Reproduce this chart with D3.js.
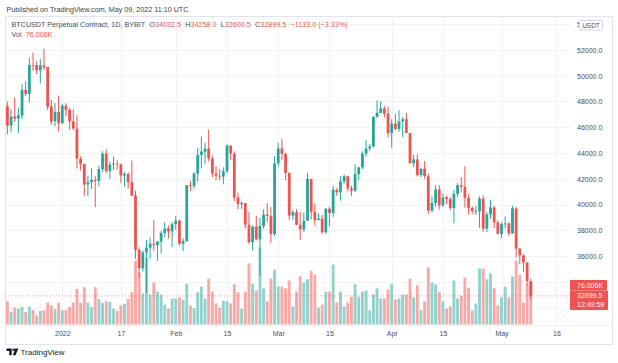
<!DOCTYPE html>
<html>
<head>
<meta charset="utf-8">
<script src="https://cdn.jsdelivr.net/npm/d3@7"></script>
<style>
  body { margin: 0; background: #fff; }
  svg text { font-family: "Liberation Sans", Arial, sans-serif; }
</style>
</head>
<body>
<div class="chart"></div>
<script>
// Daily candles, first one is 2021-12-17, last one 2022-05-09
var firstDay = "2021-12-17";

var opens = [47632,46133,46834,46682,46908,48887,48588,50838,50821,50428,50802,50679,47623,46490,47169,
  46311,47680,47343,46459,45899,43565,43153,41561,41734,41910,41819,42742,43947,42599,43102,43172,43118,42250,42374,41744,40699,36471,35048,36275,36654,36950,36841,37128,37780,38151,37920,
  38481,38744,36945,37149,41501,41441,42407,43854,44096,44347,43571,42412,42236,42158,42586,44578,43937,40552,40022,40118,38423,37068,38285,37279,38333,39214,39098,37707,
  43194,44358,43925,42458,39148,39404,38429,38060,38742,41974,39439,38795,38884,37846,39664,39335,41141,40944,41795,42191,41246,41074,42364,42886,43964,44349,44505,46821,47100,47456,47062,
  45554,46285,45859,46445,46625,45544,43207,43505,42283,42781,42201,39533,40123,41161,39940,40553,40417,39721,40828,41501,41371,40525,39740,39460,39472,40448,38120,39242,39768,38605,
  37713,38472,38528,37748,39695,36573,36042,35502,34032.5];

var highs = [47995,47392,48300,47537,49329,49576,51375,51810,51156,51280,52088,50679,48119,47879,48472,
  47827,47881,47510,47406,46929,43748,43153,42228,42786,42199,43001,44135,44278,43346,43724,43436,43179,42534,42478,43413,41060,36688,36433,37247,37444,38825,37148,37952,38623,38360,38648,
  39116,38834,37390,41527,41847,42500,44401,45293,44793,45821,43810,42992,42760,42883,44667,44578,44132,40929,40247,40119,39394,38349,39122,38968,39630,40124,39794,43760,
  44793,45077,44021,42479,39566,39640,39430,39362,42465,42004,40081,39308,39209,39742,39795,41465,41287,42195,42316,42241,41454,43124,42893,44131,44999,44735,46827,48086,48022,47655,47600,
  46616,47028,47313,46791,47106,45544,43860,43903,42800,43376,42415,40617,41503,41507,40854,40710,40595,41116,41672,42126,42976,40792,39845,39923,40616,40713,39422,40370,39887,38771,
  38627,39074,38629,39902,39789,36624,36129,35502,34258];

var lows = [45456,45601,46406,45558,46631,48422,47920,50391,50142,49412,50449,47320,46201,46060,45678,
  46288,46856,45835,45752,42798,42645,40672,40672,41200,39796,41407,42529,42447,41982,42669,42692,41680,41392,41242,40672,35791,34349,34785,33184,35780,36374,35630,36211,37465,37351,36693,
  38037,36832,36375,37093,41038,41244,41748,42807,43117,43334,42114,41852,41880,41570,42427,43456,40249,39637,39660,38113,36950,36435,37201,34459,38111,38625,37018,37518,
  42952,43432,41914,38805,38777,38380,37260,37868,38706,38832,38347,38772,37728,37680,38310,39022,40662,40302,41602,41004,40668,40948,41877,42726,43706,44166,44437,46690,47100,46746,45200,
  44403,45782,45634,45235,45544,43193,42893,42183,42125,42002,39250,39388,39824,39599,39798,40026,39560,38536,40571,40936,39762,39233,39233,39189,38200,37884,37867,38881,38176,37697,
  37386,38156,37585,37732,35857,35382,34785,33713,32600.5];

var closes = [46131,46834,46681,46914,48890,48588,50838,50821,50429,50809,50640,47588,46444,47178,46306,
  47686,47345,46458,45897,43569,43160,41558,41734,41912,41822,42736,43949,42592,43099,43177,43113,42250,42375,41744,40680,36457,35030,36276,36654,36954,36852,37138,37784,38138,37917,38483,
  38743,36952,37154,41500,41441,42406,43840,44118,44338,43565,42407,42244,42197,42586,44575,43961,40538,40031,40126,38431,37075,38286,37297,38332,39214,39105,37709,43193,
  44354,43925,42452,39137,39400,38420,38062,38737,41982,39437,38794,38904,37849,39666,39338,41143,40951,41801,42191,41247,41077,42358,42892,43960,44349,44500,46820,47128,47465,47062,45538,
  46281,45868,46453,46622,45555,43207,43503,42287,42782,42207,39521,40127,41166,39936,40553,40424,39716,40827,41502,41374,40527,39740,39486,39478,40458,38117,39241,39773,38609,37714,
  38469,38529,37750,39698,36575,36040,35501,34060,32899.5];

// volume in thousands (K)
var volumes = [41,22,30,28,31,22,32,26,16,24,25,39,34,27,39,
  25,26,31,39,63,39,66,39,31,66,45,38,41,40,28,24,34,37,45,57,113,92,55,118,53,74,58,53,35,28,46,
  46,48,44,72,34,29,57,67,46,81,58,37,30,42,41,37,71,57,28,58,108,72,60,136,64,41,81,97,
  67,67,64,78,32,58,85,74,80,95,88,30,35,58,58,106,39,58,32,39,49,71,49,58,60,25,53,64,46,46,62,
  72,44,46,53,53,81,48,69,25,41,101,74,71,57,41,28,32,78,46,51,83,65,25,37,99,99,80,90,64,34,
  48,67,48,85,113,88,39,71,76.006];

var priceTicks = [32000, 34000, 36000, 38000, 40000, 42000, 44000, 46000, 48000, 50000, 52000, 54000];
var timeTicks = ["2022-01-01", "2022-01-17", "2022-02-01", "2022-02-15", "2022-03-01",
  "2022-03-15", "2022-04-01", "2022-04-15", "2022-05-01", "2022-05-16"];
var timeLabels = ["2022", "17", "Feb", "15", "Mar", "15", "Apr", "15", "May", "16"];

var lastVolLabel = "76.006K";
var lastPriceLabel = "32899.5";
var countdownLabel = "12:49:59";

// Colors
var upColor = "#26a69a";
var downColor = "#ef5350";
var upVolColor = "#92d2cc";
var downVolColor = "#f7a9a7";
var gridColor = "#f0f2f6";
var frameColor = "#e0e3eb";
var textColor = "#4a4e5a";

// SVG size
var svgWidth = 618;
var svgHeight = 363;

// pane box
var pane = { left: 5, right: 572, top: 16, bottom: 325 };
var frame = { left: 5, right: 612, top: 16, bottom: 344 };

var parseDay = d3.utcParse("%Y-%m-%d");
var day0 = parseDay(firstDay);

var candles = opens.map(function(o, i) {
  return {
    date: d3.utcDay.offset(day0, i),
    open: o,
    high: highs[i],
    low: lows[i],
    close: closes[i],
    volume: volumes[i]
  };
});

var svg = d3.select(".chart")
  .append("svg")
  .attr("width", svgWidth)
  .attr("height", svgHeight);

svg.append("rect")
  .attr("width", svgWidth)
  .attr("height", svgHeight)
  .attr("fill", "#fff");

// scales
var xScale = d3.scaleUtc()
  .domain([day0, parseDay("2022-05-16")])
  .range([7.4, 556.4]);

var yScale = d3.scaleLinear()
  .domain([32000, 52000])
  .range([307.5, 50]);

var volScale = d3.scaleLinear()
  .domain([0, 76.006])
  .range([324.5, 281.5]);

var bodyWidth = 2.8;
var volWidth = 2.9;

// frame
svg.append("rect")
  .attr("x", frame.left + 0.5)
  .attr("y", frame.top + 0.5)
  .attr("width", frame.right - frame.left)
  .attr("height", frame.bottom - frame.top)
  .attr("fill", "none")
  .attr("stroke", frameColor);

// grid lines
var gridGroup = svg.append("g");

gridGroup.selectAll(".hgrid")
  .data(priceTicks.filter(d => yScale(d) > pane.top + 2))
  .enter()
  .append("line")
  .attr("x1", pane.left)
  .attr("x2", pane.right)
  .attr("y1", d => Math.round(yScale(d)) + 0.5)
  .attr("y2", d => Math.round(yScale(d)) + 0.5)
  .attr("stroke", gridColor);

gridGroup.selectAll(".vgrid")
  .data(timeTicks)
  .enter()
  .append("line")
  .attr("x1", d => Math.round(xScale(parseDay(d))) + 0.5)
  .attr("x2", d => Math.round(xScale(parseDay(d))) + 0.5)
  .attr("y1", pane.top)
  .attr("y2", pane.bottom)
  .attr("stroke", gridColor);

// time scale separator
svg.append("line")
  .attr("x1", frame.left)
  .attr("x2", frame.right)
  .attr("y1", pane.bottom + 0.5)
  .attr("y2", pane.bottom + 0.5)
  .attr("stroke", "#f0f2f6");

// volume bars
svg.append("g").selectAll("rect")
  .data(candles)
  .enter()
  .append("rect")
  .attr("x", d => xScale(d.date) - volWidth / 2)
  .attr("y", d => volScale(d.volume))
  .attr("width", volWidth)
  .attr("height", d => volScale(0) - volScale(d.volume))
  .attr("fill", d => d.close >= d.open ? upVolColor : downVolColor);

// last price dotted line
svg.append("line")
  .attr("x1", pane.left)
  .attr("x2", pane.right)
  .attr("y1", yScale(closes[closes.length - 1]))
  .attr("y2", yScale(closes[closes.length - 1]))
  .attr("stroke", downColor)
  .attr("stroke-opacity", 0.6)
  .attr("stroke-dasharray", "1,2");

// candles
var candleGroup = svg.append("g");

candleGroup.selectAll(".wick")
  .data(candles)
  .enter()
  .append("line")
  .attr("x1", d => xScale(d.date))
  .attr("x2", d => xScale(d.date))
  .attr("y1", d => yScale(d.high))
  .attr("y2", d => yScale(d.low))
  .attr("stroke", d => d.close >= d.open ? upColor : downColor)
  .attr("stroke-width", 1);

candleGroup.selectAll(".body")
  .data(candles)
  .enter()
  .append("rect")
  .attr("x", d => xScale(d.date) - bodyWidth / 2)
  .attr("y", d => yScale(Math.max(d.open, d.close)))
  .attr("width", bodyWidth)
  .attr("height", d => Math.max(0.8, Math.abs(yScale(d.open) - yScale(d.close))))
  .attr("fill", d => d.close >= d.open ? upColor : downColor);

// time axis
var bottomAxis = d3.axisBottom(xScale)
  .tickValues(timeTicks.map(parseDay))
  .tickFormat((d, i) => timeLabels[i])
  .tickSize(0)
  .tickPadding(0);

var xAxis = svg.append("g")
  .attr("transform", `translate(0, ${pane.bottom + 6})`)
  .call(bottomAxis);
xAxis.select(".domain").remove();
xAxis.selectAll("text")
  .attr("font-size", 7)
  .attr("font-family", "Liberation Sans, Arial, sans-serif")
  .attr("fill", textColor);

// price axis (54000 sits behind the currency box, 34000 and 32000 behind the value labels)
var rightAxis = d3.axisRight(yScale)
  .tickValues(priceTicks)
  .tickFormat(d3.format(".1f"))
  .tickSize(0)
  .tickPadding(0);

var yAxis = svg.append("g")
  .attr("transform", "translate(577, 0)")
  .call(rightAxis);
yAxis.select(".domain").remove();
yAxis.selectAll("text")
  .attr("font-size", 7)
  .attr("font-family", "Liberation Sans, Arial, sans-serif")
  .attr("fill", textColor);

// currency box
svg.append("rect")
  .attr("x", 579.5)
  .attr("y", 20.5)
  .attr("width", 23)
  .attr("height", 9.5)
  .attr("rx", 1.5)
  .attr("fill", "#fff")
  .attr("stroke", "#d1d4dc");
svg.append("text")
  .attr("x", 591)
  .attr("y", 25.5)
  .attr("dy", "0.35em")
  .attr("text-anchor", "middle")
  .attr("font-size", 6.5)
  .attr("fill", textColor)
  .text("USDT");

// last value labels on price scale
var labelGroup = svg.append("g");
labelGroup.append("rect")
  .attr("x", 570)
  .attr("y", 280)
  .attr("width", 37)
  .attr("height", 10.5)
  .attr("rx", 1)
  .attr("fill", downColor);
labelGroup.append("rect")
  .attr("x", 570)
  .attr("y", 290.5)
  .attr("width", 38)
  .attr("height", 19.5)
  .attr("rx", 1)
  .attr("fill", downColor);

var labelTexts = [
  { y: 285.3, text: lastVolLabel },
  { y: 295.7, text: lastPriceLabel },
  { y: 304.8, text: countdownLabel }
];
labelGroup.selectAll("text")
  .data(labelTexts)
  .enter()
  .append("text")
  .attr("x", 577)
  .attr("y", d => d.y)
  .attr("dy", "0.35em")
  .attr("font-size", 7)
  .attr("fill", "#fff")
  .text(d => d.text);

// header
svg.append("text")
  .attr("x", 6.5)
  .attr("y", 9.3)
  .attr("dy", "0.35em")
  .attr("font-size", 7.2)
  .attr("fill", "#3a3d46")
  .text("Published on TradingView.com, May 09, 2022 11:10 UTC");

var legend = svg.append("text")
  .attr("x", 11.5)
  .attr("y", 24.3)
  .attr("dy", "0.35em")
  .attr("font-size", 7.2)
  .attr("fill", textColor);

var last = candles[candles.length - 1];
var change = last.close - last.open;
legend.append("tspan").text("BTCUSDT Perpetual Contract, 1D, BYBIT");
var ohlcParts = [
  ["O", last.open.toFixed(1)],
  ["H", last.high.toFixed(1)],
  ["L", last.low.toFixed(1)],
  ["C", last.close.toFixed(1)]
];
ohlcParts.forEach(function(p) {
  legend.append("tspan").attr("dx", 4.3).text(p[0]);
  legend.append("tspan").attr("fill", downColor).text(p[1]);
});
legend.append("tspan")
  .attr("dx", 4.3)
  .attr("fill", downColor)
  .text(`\u2212${Math.abs(change).toFixed(1)} (\u2212${(Math.abs(change) / last.open * 100).toFixed(2)}%)`);

var volLegend = svg.append("text")
  .attr("x", 11.5)
  .attr("y", 34)
  .attr("dy", "0.35em")
  .attr("font-size", 7.2)
  .attr("fill", textColor);
volLegend.append("tspan").text("Vol");
volLegend.append("tspan").attr("dx", 4.3).attr("fill", downColor).text(lastVolLabel);

// footer logo
var logo = svg.append("g").attr("fill", "#131722");
logo.append("path").attr("d", "M6.5,348.5h5.2v6.8h-2.4v-4.4h-2.8z");
logo.append("circle").attr("cx", 13.6).attr("cy", 349.7).attr("r", 1.2);
logo.append("path").attr("d", "M15.2,348.5h3.2l-2.9,6.8h-2.6z");

svg.append("text")
  .attr("x", 20.5)
  .attr("y", 352.2)
  .attr("dy", "0.35em")
  .attr("font-size", 8)
  .attr("fill", "#131722")
  .text("TradingView");
</script>
</body>
</html>
